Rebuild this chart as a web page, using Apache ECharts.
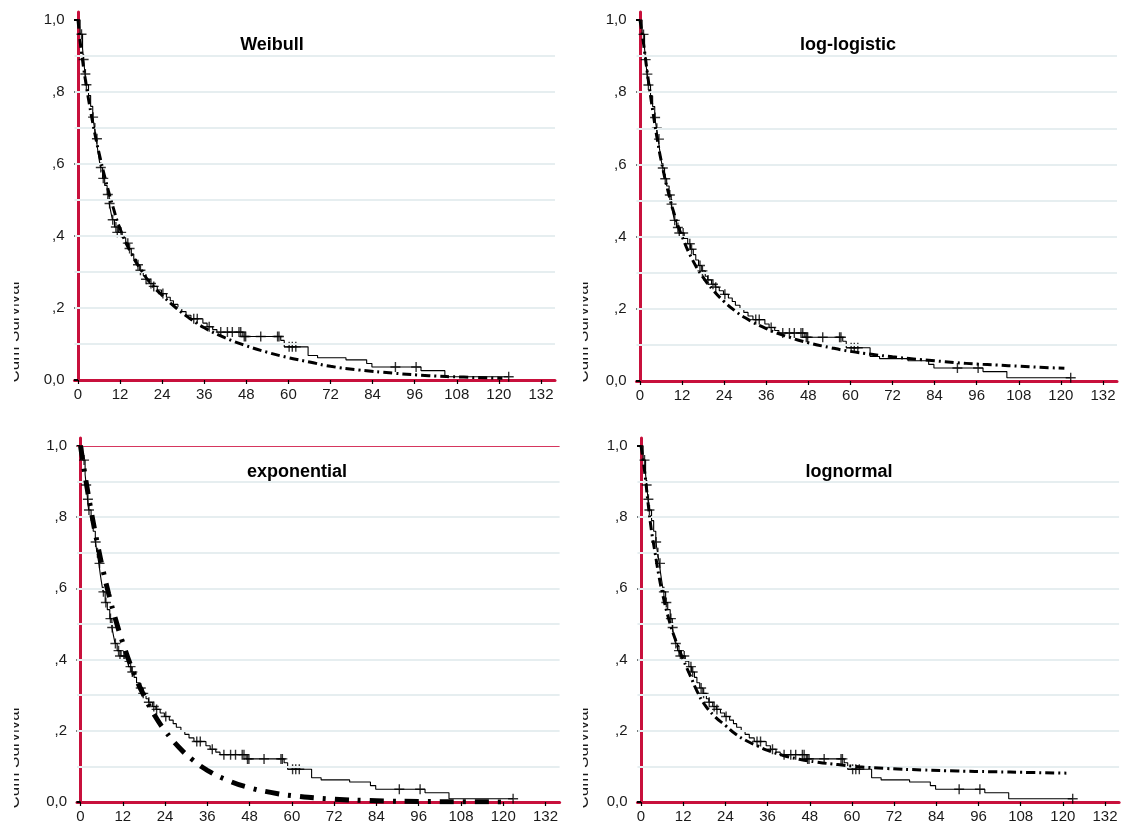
<!DOCTYPE html>
<html>
<head>
<meta charset="utf-8">
<script src="https://cdn.jsdelivr.net/npm/echarts@6/dist/echarts.min.js"></script>
<style>
html,body{margin:0;padding:0;background:#fff;}
#chart{width:1124px;height:824px;}
</style>
</head>
<body>
<div id="chart"></div>
<script>
// ---- data ----
const xTicks = [0, 12, 24, 36, 48, 60, 72, 84, 96, 108, 120, 132];
const yTicks = [0, 0.2, 0.4, 0.6, 0.8, 1.0];
const yTickLabels = ['0,0', ',2', ',4', ',6', ',8', '1,0'];
const gridLevels = [0.1, 0.2, 0.3, 0.4, 0.5, 0.6, 0.7, 0.8, 0.9];
const panelTitles = ['Weibull', 'log-logistic', 'exponential', 'lognormal'];
const yAxisTitle = 'Cum Survival';

// Kaplan-Meier step curve (time at which survival drops, new survival)
const kmTimes = [0, 0.6, 1.3, 1.6, 2.0, 2.3, 3.0, 3.6, 4.2, 4.7, 5.2, 5.6, 5.9, 6.4, 7.0, 7.6, 8.3, 8.9, 9.4, 9.8, 10.4, 11.5, 12.6, 13.6, 14.4, 15.2, 15.9, 16.7, 17.6, 18.6, 19.3, 20.4, 21.4, 22.6, 23.8, 25.2, 26.3, 27.2, 28.5, 29.6, 30.8, 32.2, 35.6, 36.8, 38.4, 39.6, 47.0, 57.8, 58.8, 65.6, 68.3, 76.4, 82.3, 83.8, 97.8, 104.6, 122.8];
const kmSurv  = [1.0, 0.96, 0.92, 0.89, 0.85, 0.82, 0.79, 0.76, 0.73, 0.70, 0.67, 0.64, 0.62, 0.59, 0.56, 0.54, 0.515, 0.49, 0.465, 0.445, 0.425, 0.41, 0.395, 0.38, 0.365, 0.35, 0.335, 0.32, 0.305, 0.29, 0.28, 0.268, 0.26, 0.25, 0.24, 0.23, 0.22, 0.21, 0.20, 0.19, 0.18, 0.17, 0.158, 0.148, 0.14, 0.133, 0.121, 0.11, 0.092, 0.068, 0.062, 0.056, 0.046, 0.036, 0.026, 0.009, 0.009];

// censored observations (+ marks)
const censorTimes = [1.0, 1.6, 2.1, 2.4, 4.3, 4.8, 5.4, 6.5, 7.2, 8.5, 9.0, 9.9, 10.8, 11.2, 12.3, 14.2, 14.7, 17.1, 17.8, 19.4, 20.8, 21.6, 24.2, 33.0, 34.0, 37.4, 40.7, 42.6, 44.0, 45.9, 46.4, 47.4, 47.8, 52.1, 56.9, 57.3, 60.2, 61.1, 62.1, 90.5, 96.4, 122.8];
const censorSurv  = [0.96, 0.89, 0.85, 0.82, 0.73, 0.70, 0.67, 0.59, 0.56, 0.515, 0.49, 0.445, 0.425, 0.41, 0.41, 0.38, 0.365, 0.32, 0.305, 0.28, 0.268, 0.26, 0.24, 0.17, 0.17, 0.148, 0.133, 0.133, 0.133, 0.133, 0.133, 0.121, 0.121, 0.121, 0.121, 0.121, 0.092, 0.092, 0.092, 0.036, 0.036, 0.009];

// fitted parametric curves
const weibullTimes = [0, 0.5, 1, 2, 3, 4, 5, 6, 8, 10, 12, 15, 18, 21, 24, 28, 32, 36, 42, 48, 54, 60, 66, 72, 80, 90, 100, 110, 121];
const weibullSurv  = [1.0, 0.95, 0.91, 0.84, 0.78, 0.725, 0.675, 0.63, 0.55, 0.48, 0.42, 0.355, 0.305, 0.265, 0.235, 0.20, 0.17, 0.145, 0.117, 0.095, 0.077, 0.062, 0.05, 0.038, 0.028, 0.019, 0.012, 0.008, 0.005];

const loglogTimes = [0, 1, 2, 3, 4, 5, 6, 8, 10, 12, 15, 18, 21, 24, 27, 30, 36, 42, 48, 54, 60, 66, 72, 78, 84, 90, 96, 102, 108, 114, 121];
const loglogSurv  = [1.0, 0.935, 0.86, 0.79, 0.725, 0.665, 0.612, 0.525, 0.455, 0.40, 0.335, 0.287, 0.25, 0.22, 0.195, 0.175, 0.145, 0.123, 0.106, 0.093, 0.082, 0.074, 0.067, 0.061, 0.056, 0.051, 0.047, 0.044, 0.041, 0.038, 0.035];

const expoTimes = [0, 1, 2, 3, 4, 5, 6, 8, 10, 12, 15, 18, 21, 24, 28, 32, 36, 42, 48, 54, 60, 72, 84, 96, 108, 121];
const expoSurv  = [1.0, 0.935, 0.874, 0.818, 0.765, 0.715, 0.668, 0.584, 0.511, 0.447, 0.365, 0.299, 0.244, 0.20, 0.153, 0.117, 0.089, 0.06, 0.04, 0.027, 0.018, 0.008, 0.0035, 0.0016, 0.0007, 0.0003];

const lognormTimes = [0, 1, 2, 3, 4, 5, 6, 8, 10, 12, 14, 16, 18, 21, 24, 27, 30, 33, 36, 40, 45, 50, 56, 62, 70, 80, 90, 100, 110, 121];
const lognormSurv  = [1.0, 0.93, 0.84, 0.76, 0.70, 0.64, 0.59, 0.51, 0.45, 0.40, 0.355, 0.31, 0.275, 0.24, 0.215, 0.19, 0.172, 0.158, 0.145, 0.132, 0.12, 0.112, 0.105, 0.099, 0.094, 0.09, 0.087, 0.085, 0.083, 0.081];

// ---- build ----
const zip = (a, b) => a.map((v, i) => [v, b[i]]);
const RED = '#c8103c';
const FONT = 'Liberation Sans, Arial, sans-serif';

const grids = [
  {left: 74.5, top: 12, width: 480.5, height: 368},
  {left: 636.5, top: 12, width: 480.5, height: 369},
  {left: 77, top: 438, width: 482.6, height: 368},
  {left: 637.5, top: 438, width: 481.6, height: 368}
];

const fits = [
  {times: weibullTimes, surv: weibullSurv, width: 3, dash: [9, 4, 2, 4]},
  {times: loglogTimes, surv: loglogSurv, width: 3, dash: [9, 4, 2, 4]},
  {times: expoTimes, surv: expoSurv, width: 5, dash: [14, 9, 3, 9]},
  {times: lognormTimes, surv: lognormSurv, width: 3, dash: [9, 4, 2, 4]}
];

const xAxes = [], yAxes = [], series = [];
const plusPath = 'path://M4.3,0h1.4v10h-1.4zM0,4.3h10v1.4h-10z';

grids.forEach((g, i) => {
  xAxes.push({
    gridIndex: i, type: 'value', min: -1, max: 136,
    axisLine: {show: true, onZero: false, lineStyle: {color: RED, width: 3}},
    axisTick: {show: true, customValues: xTicks, length: 4, lineStyle: {color: '#000', width: 1.2}},
    axisLabel: {customValues: xTicks, color: '#1a1a1a', fontFamily: FONT, fontSize: 15, margin: 7},
    splitLine: {show: false}
  });
  yAxes.push({
    gridIndex: i, type: 'value', min: 0, max: 1.022,
    axisLine: {show: true, onZero: true, lineStyle: {color: RED, width: 3}},
    axisTick: {show: true, customValues: yTicks, length: 4, lineStyle: {color: '#000', width: 2}},
    axisLabel: {customValues: yTicks, color: '#1a1a1a', fontFamily: FONT, fontSize: 15, margin: 10,
      formatter: v => yTickLabels[Math.round(v * 5)]},
    splitLine: {show: false}
  });
  const gl = gridLevels.map(v => ({yAxis: v, lineStyle: {color: '#e6eef0', width: 2, type: 'solid'}}));
  if (i === 2) gl.push({yAxis: 1.0, lineStyle: {color: '#d6365e', width: 1.2, type: 'solid'}});
  series.push({
    type: 'line', xAxisIndex: i, yAxisIndex: i, data: [], z: -1, silent: true,
    markLine: {silent: true, symbol: 'none', label: {show: false}, animation: false, data: gl}
  });
  series.push({
    type: 'line', xAxisIndex: i, yAxisIndex: i, step: 'end', symbol: 'none',
    data: zip(kmTimes, kmSurv), lineStyle: {color: '#000', width: 1.1}, z: 3, animation: false
  });
  series.push({
    type: 'scatter', xAxisIndex: i, yAxisIndex: i, symbol: plusPath, symbolSize: 10,
    data: zip(censorTimes, censorSurv), itemStyle: {color: '#000'}, z: 4, animation: false
  });
  const f = fits[i];
  series.push({
    type: 'line', xAxisIndex: i, yAxisIndex: i, symbol: 'none', smooth: true,
    data: zip(f.times, f.surv), lineStyle: {color: '#000', width: f.width, type: f.dash, cap: 'butt'},
    z: 5, animation: false
  });
});

const titlePos = [[272, 45], [848, 45], [297, 472], [849, 472]];
const graphic = [];
panelTitles.forEach((t, i) => {
  graphic.push({type: 'text', x: titlePos[i][0], y: titlePos[i][1], z: 10,
    style: {text: t, font: 'bold 18px ' + FONT, fill: '#000', align: 'center', verticalAlign: 'middle'}});
});
const axisTitlePos = [[22.7, 332, 0, 14], [592, 332, 570, 583], [22.7, 758, 0, 14], [592, 758, 570, 583]];
axisTitlePos.forEach(p => {
  graphic.push({type: 'text', x: p[0], y: p[1], rotation: Math.PI / 2, z: 10,
    style: {text: yAxisTitle, font: '17px ' + FONT, fill: '#1a1a1a', align: 'center', verticalAlign: 'bottom'}});
  graphic.push({type: 'rect', z: 11, shape: {x: p[2], y: p[1] - 70, width: p[3] - p[2], height: 140},
    style: {fill: '#fff'}});
});

const chart = echarts.init(document.getElementById('chart'), null, {renderer: 'canvas'});
chart.setOption({
  backgroundColor: '#fff',
  animation: false,
  grid: grids,
  xAxis: xAxes,
  yAxis: yAxes,
  series: series,
  graphic: graphic
});
</script>
</body>
</html>
